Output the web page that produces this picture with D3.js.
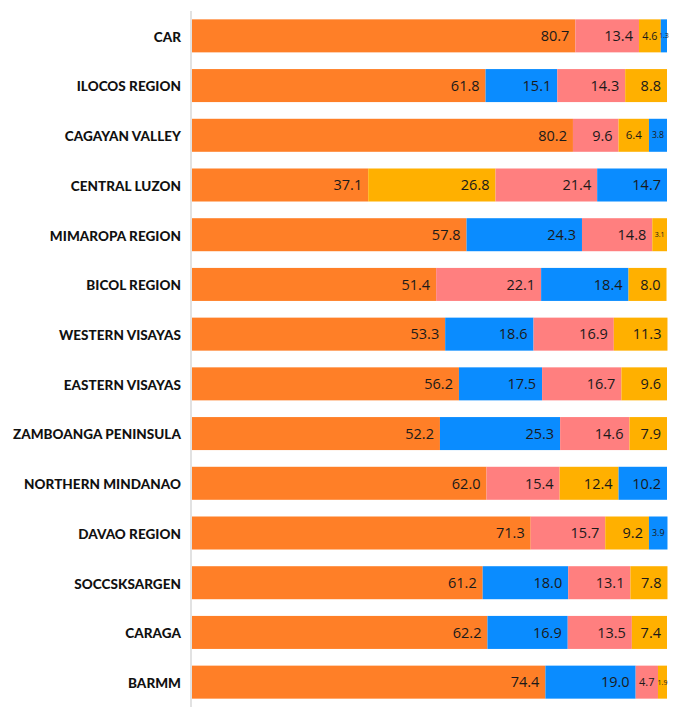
<!DOCTYPE html>
<html>
<head>
<meta charset="utf-8">
<script src="https://cdn.jsdelivr.net/npm/d3@7"></script>
<style>
  body { margin: 0; background: #fff; }
  .region { font-family: Lato, "DejaVu Sans", sans-serif; font-weight: 900; font-size: 13.5px; letter-spacing: 0.05px; fill: #111; }
  .val { font-family: "Open Sans", "Liberation Sans", sans-serif; fill: #1a1a1a; }
</style>
</head>
<body>
<svg id="myGraph" width="677" height="707"></svg>
<script>
// 地域
var regions = ['CAR', 'ILOCOS REGION', 'CAGAYAN VALLEY', 'CENTRAL LUZON', 'MIMAROPA REGION',
  'BICOL REGION', 'WESTERN VISAYAS', 'EASTERN VISAYAS', 'ZAMBOANGA PENINSULA',
  'NORTHERN MINDANAO', 'DAVAO REGION', 'SOCCSKSARGEN', 'CARAGA', 'BARMM'];

// 各シリーズの値（色ごと）
var orangeVals = [80.7, 61.8, 80.2, 37.1, 57.8, 51.4, 53.3, 56.2, 52.2, 62.0, 71.3, 61.2, 62.2, 74.4];
var pinkVals   = [13.4, 14.3,  9.6, 21.4, 14.8, 22.1, 16.9, 16.7, 14.6, 15.4, 15.7, 13.1, 13.5,  4.7];
var yellowVals = [ 4.6,  8.8,  6.4, 26.8,  3.1,  8.0, 11.3,  9.6,  7.9, 12.4,  9.2,  7.8,  7.4,  1.9];
var blueVals   = [ 1.3, 15.1,  3.8, 14.7, 24.3, 18.4, 18.6, 17.5, 25.3, 10.2,  3.9, 18.0, 16.9, 19.0];

var series = [
  { key: 'orange', color: '#FF7F27', values: orangeVals },
  { key: 'pink',   color: '#FF7F7F', values: pinkVals },
  { key: 'yellow', color: '#FFB000', values: yellowVals },
  { key: 'blue',   color: '#0A8CFF', values: blueVals }
];

var svg = d3.select('#myGraph');

var x = d3.scaleLinear().domain([0, 100]).range([192, 667]);
var y = d3.scaleBand().domain(regions).range([11, 707])
  .paddingInner(0.336).paddingOuter(0.168);

// 行ごとに値の大きい順に並べて積み上げる
var segs = [];
regions.forEach(function(r, i) {
  var row = series.map(function(s) { return { region: r, color: s.color, v: s.values[i] }; });
  row.sort(function(a, b) { return b.v - a.v; });
  var acc = 0;
  row.forEach(function(d) {
    d.x0 = acc; acc += d.v; d.x1 = acc;
    segs.push(d);
  });
});

// 縦の軸線
svg.append('line')
  .attr('x1', 191).attr('x2', 191)
  .attr('y1', 11).attr('y2', 707)
  .attr('stroke', '#e2e2e2').attr('stroke-width', 2);

// 棒
svg.append('g').selectAll('rect')
  .data(segs)
  .enter()
  .append('rect')
  .attr('x', function(d) { return x(d.x0); })
  .attr('y', function(d) { return y(d.region); })
  .attr('width', function(d) { return x(d.x1) - x(d.x0); })
  .attr('height', y.bandwidth())
  .attr('fill', function(d) { return d.color; });

// 値ラベル
svg.append('g').selectAll('text')
  .data(segs)
  .enter()
  .append('text')
  .attr('class', 'val')
  .each(function(d) {
    var w = x(d.x1) - x(d.x0);
    var t = d3.select(this).text(d.v.toFixed(1));
    var cy = y(d.region) + y.bandwidth() / 2;
    if (w > 32) {
      t.attr('x', x(d.x1) - 6).attr('text-anchor', 'end').style('font-size', '14.5px');
    } else {
      var fs = Math.max(7, Math.min(11.5, (w - 2) / 1.85));
      t.attr('x', (x(d.x0) + x(d.x1)) / 2).attr('text-anchor', 'middle').style('font-size', fs + 'px');
    }
    t.attr('y', cy).attr('dy', '0.36em');
  });

// 地域名
svg.append('g').selectAll('text')
  .data(regions)
  .enter()
  .append('text')
  .attr('class', 'region')
  .attr('x', 181)
  .attr('y', function(d) { return y(d) + y.bandwidth() / 2 + 1; })
  .attr('dy', '0.36em')
  .attr('text-anchor', 'end')
  .text(function(d) { return d; });
</script>
</body>
</html>
